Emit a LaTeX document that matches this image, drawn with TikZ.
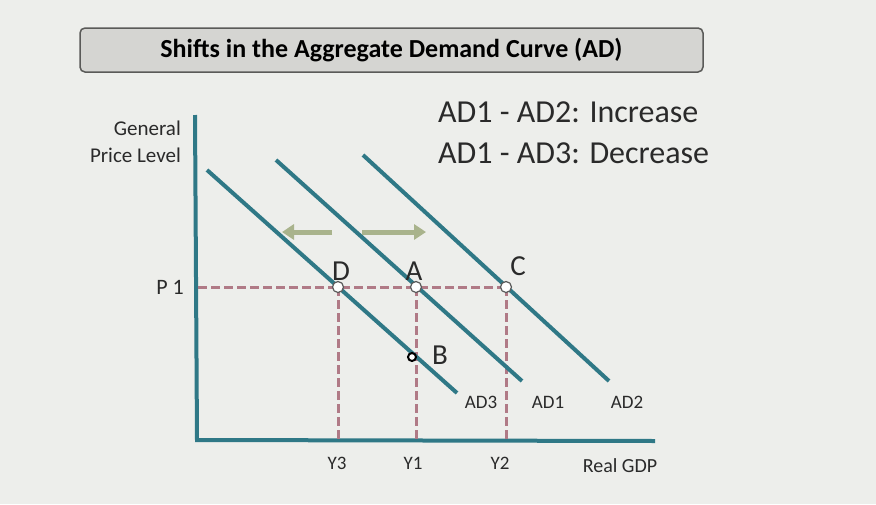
\documentclass[tikz,border=0pt]{standalone}
\usepackage{fontspec}
\setmainfont{Carlito}
\usetikzlibrary{arrows.meta}
\definecolor{bgc}{HTML}{EDEEEB}
\definecolor{titlefill}{HTML}{D5D5D2}
\definecolor{titledraw}{HTML}{5A5A58}
\definecolor{axisc}{HTML}{2F7886}
\definecolor{dashc}{HTML}{B07A86}
\definecolor{shiftc}{HTML}{A9B38C}
\definecolor{txt}{HTML}{2A2A2A}
\tikzset{
  curve/.style={draw=axisc, line width=4pt},
  axisline/.style={draw=axisc, line width=4pt},
  guide/.style={draw=dashc, line width=3pt, dash pattern=on 9pt off 4pt},
  pt/.style={circle, draw=gray!70!black, fill=white, line width=1.2pt, minimum size=11pt, inner sep=0pt},
  lbl/.style={font=\fontsize{29}{31}\selectfont, text=txt, inner sep=0pt},
  small/.style={font=\fontsize{19}{21}\selectfont, text=txt, inner sep=0pt},
  shiftarrow/.style={draw=shiftc, line width=5pt, -{Triangle[length=12pt,width=15pt]}},
}
\begin{document}
\begin{tikzpicture}[x=1pt,y=-1pt]
\useasboundingbox (0,0) rectangle (876,504);
\fill[bgc] (0,0) rectangle (876,504);
% title
\node[draw=titledraw, fill=titlefill, line width=1.5pt, rounded corners=5pt, minimum width=623pt, minimum height=44pt, font=\bfseries\fontsize{26}{28}\selectfont, text=black] (title) at (391.5,50) {Shifts in the Aggregate Demand Curve (AD)};
% legend text
\node[anchor=west, font=\fontsize{32}{34}\selectfont, text=txt, inner sep=0pt] (inc) at (438,112) {AD1 - AD2: Increase};
\node[anchor=west, font=\fontsize{32}{34}\selectfont, text=txt, inner sep=0pt] (dec) at (438,153) {AD1 - AD3: Decrease};
% axes
\coordinate (otop) at (195,115);
\coordinate (o) at (197,440);
\coordinate (xend) at (655,441);
\draw[axisline] (otop) -- (o.center) -- (xend);
\node[anchor=east, align=right, text=txt, inner sep=0pt, font=\fontsize{21}{27}\selectfont] (ylab) at (181,142) {General\\Price Level};
% guides
\coordinate (p1) at (198,287);
\coordinate (D) at (338,287);
\coordinate (A) at (416,287);
\coordinate (C) at (506,287);
\coordinate (y3) at (338,439);
\coordinate (y1) at (416,439);
\coordinate (y2) at (506,439);
\draw[guide] (p1) -- (C);
\draw[guide] (D) -- (y3);
\draw[guide] (A) -- (y1);
\draw[guide] (C) -- (y2);
% curves
\coordinate (ad3s) at (207,170);
\coordinate (ad3e) at (457,393);
\coordinate (ad1s) at (276,160);
\coordinate (ad1e) at (522,381);
\coordinate (ad2s) at (363,155);
\coordinate (ad2e) at (609,381);
\draw[curve] (ad3s) -- (ad3e);
\draw[curve] (ad1s) -- (ad1e);
\draw[curve] (ad2s) -- (ad2e);
% shift arrows
\coordinate (la1) at (332,232);
\coordinate (la2) at (282,232);
\coordinate (ra1) at (362,232);
\coordinate (ra2) at (426,232);
\draw[shiftarrow] (la1) -- (la2);
\draw[shiftarrow] (ra1) -- (ra2);
% points
\node[pt] (nD) at (D) {};
\node[pt] (nA) at (A) {};
\node[pt] (nC) at (C) {};
\node[circle, draw=black, fill=white, line width=2pt, minimum size=8pt, inner sep=0pt] (nB) at (412,357) {};
% point labels
\node[lbl] (lD) at (341,271) {D};
\node[lbl] (lA) at (414,271) {A};
\node[lbl] (lC) at (518,266) {C};
\node[lbl] (lB) at (440,355) {B};
\node[text=txt, inner sep=0pt, font=\fontsize{22}{24}\selectfont] (lP) at (170,287) {P 1};
% curve labels
\node[small] (lAD3) at (481,402) {AD3};
\node[small] (lAD1) at (548,402) {AD1};
\node[small] (lAD2) at (627,402) {AD2};
% x labels
\node[small] (lY3) at (337,463) {Y3};
\node[small] (lY1) at (413,463) {Y1};
\node[small] (lY2) at (500,463) {Y2};
\node[small, font=\fontsize{20}{22}\selectfont] (lgdp) at (620,466) {Real GDP};
\end{tikzpicture}
\end{document}
